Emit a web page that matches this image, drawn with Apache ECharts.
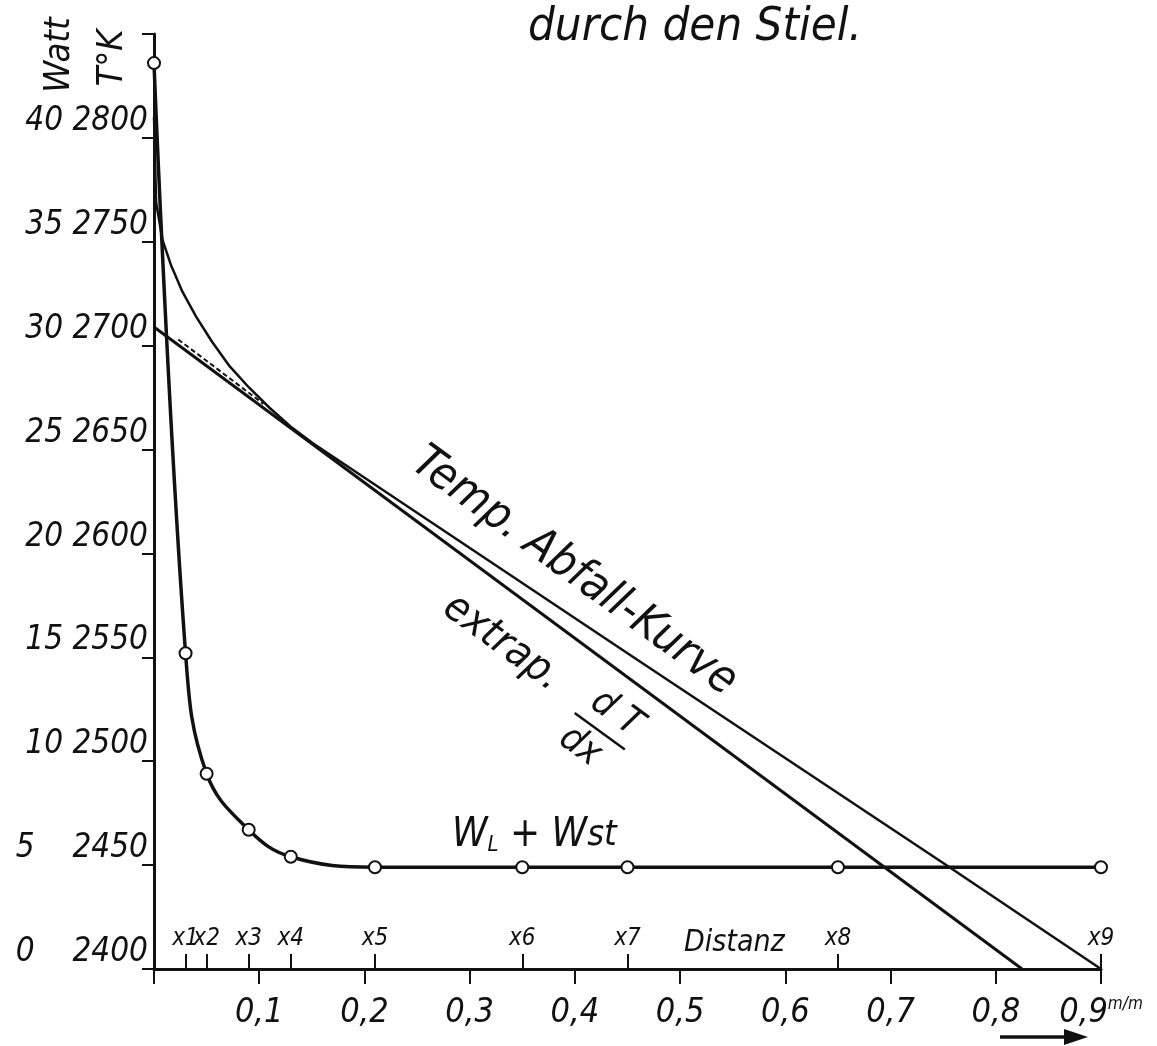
<!DOCTYPE html>
<html>
<head>
<meta charset="utf-8">
<script src="https://cdn.jsdelivr.net/npm/echarts@6/dist/echarts.min.js"></script>
<style>
  html, body { margin: 0; padding: 0; background: #fff; }
  #main { width: 1157px; height: 1046px; }
</style>
</head>
<body>
<div id="main"></div>
<script>
// Messpunkte x0..x9 (Distanz in mm) und Leistung W_L + W_st (Watt)
var distX = [0, 0.03, 0.05, 0.09, 0.13, 0.21, 0.35, 0.45, 0.65, 0.9];
var distNames = ['', 'x1', 'x2', 'x3', 'x4', 'x5', 'x6', 'x7', 'x8', 'x9'];
var wattW = [43.6, 15.2, 9.4, 6.7, 5.4, 4.9, 4.9, 4.9, 4.9, 4.9];

// Temp. Abfall-Kurve (Distanz mm, T in K)
var tempX = [0, 0.002, 0.008, 0.016, 0.027, 0.04, 0.055, 0.072, 0.09, 0.11, 0.13, 0.151, 0.45, 0.75, 0.9];
var tempT = [2810, 2769, 2751, 2739, 2726, 2714, 2702, 2690, 2680, 2670, 2661, 2653, 2552, 2451, 2400];

// extrapolierte Tangente dT/dx
var extrapX = [0, 0.825];
var extrapT = [2709, 2400];

// gestrichelter Teil am Anfang
var dashX = [0.023, 0.104];
var dashT = [2703, 2672];

var font = '"DejaVu Sans Condensed", "DejaVu Sans", sans-serif';
var ink = '#111';

function pairs(xs, ys) {
    var out = [];
    for (var i = 0; i < xs.length; i++) out.push([xs[i], ys[i]]);
    return out;
}

var deg = Math.PI / 180;
var mid = { textAlign: 'center', textVerticalAlign: 'middle', align: 'center', verticalAlign: 'middle' };

function txt(s, size, extra) {
    var st = { text: s, font: 'italic ' + size + 'px ' + font, fill: ink };
    if (extra) for (var k in extra) st[k] = extra[k];
    return st;
}

var option = {
    animation: false,
    backgroundColor: '#fff',
    grid: { left: 154, right: 56, top: 34, bottom: 77, containLabel: false },
    xAxis: [
        {
            type: 'value', min: 0, max: 0.9, interval: 0.1,
            axisLine: { lineStyle: { color: ink, width: 3 } },
            axisTick: { length: 15, lineStyle: { color: ink, width: 2 } },
            splitLine: { show: false },
            axisLabel: {
                margin: 27, color: ink, fontFamily: font, fontStyle: 'italic', fontSize: 34,
                formatter: function (v) {
                    if (v === 0) return '';
                    var s = v.toFixed(1).replace('.', ',');
                    if (Math.abs(v - 0.9) < 1e-9) return '{n|' + s + '}{u|m/m}';
                    return '{n|' + s + '}';
                },
                rich: {
                    n: { fontFamily: font, fontStyle: 'italic', fontSize: 34, color: ink },
                    u: { fontFamily: font, fontStyle: 'italic', fontSize: 17, color: ink, verticalAlign: 'top', padding: [0, 0, 14, 0] }
                }
            }
        },
        {
            type: 'value', min: 0, max: 0.9, position: 'bottom',
            axisLine: { show: false },
            splitLine: { show: false },
            axisTick: { show: true, inside: true, length: 15, customValues: distX, lineStyle: { color: ink, width: 2 } },
            axisLabel: {
                inside: true, margin: 18, hideOverlap: false, customValues: distX,
                color: ink, fontFamily: font, fontStyle: 'italic', fontSize: 24,
                formatter: function (v) {
                    for (var i = 0; i < distX.length; i++) {
                        if (Math.abs(distX[i] - v) < 1e-9) return distNames[i];
                    }
                    return '';
                }
            }
        }
    ],
    yAxis: [
        {
            type: 'value', min: 2400, max: 2850, interval: 50,
            axisLine: { show: true, lineStyle: { color: ink, width: 3 } },
            axisTick: { show: true, length: 12, lineStyle: { color: ink, width: 2 } },
            splitLine: { show: false },
            axisLabel: {
                margin: 6, color: ink, fontFamily: font, fontStyle: 'italic', fontSize: 33,
                verticalAlign: 'bottom',
                formatter: function (v) {
                    if (v > 2800) return '';
                    var w = (v - 2400) / 10;
                    return w + (w < 10 ? '    ' : ' ') + v;
                }
            }
        },
        { type: 'value', min: 0, max: 45, show: false }
    ],
    series: [
        {
            name: 'W_L + W_st', type: 'line', xAxisIndex: 0, yAxisIndex: 1,
            data: pairs(distX, wattW),
            smooth: 0.4,
            symbol: 'circle', symbolSize: 12,
            itemStyle: { color: '#fff', borderColor: ink, borderWidth: 2 },
            lineStyle: { color: ink, width: 3.5 },
            z: 5
        },
        {
            name: 'Temp. Abfall-Kurve', type: 'line', xAxisIndex: 0, yAxisIndex: 0,
            data: pairs(tempX, tempT),
            smooth: false, showSymbol: false,
            lineStyle: { color: ink, width: 2.5 }
        },
        {
            name: 'extrap. dT/dx', type: 'line', xAxisIndex: 0, yAxisIndex: 0,
            data: pairs(extrapX, extrapT), showSymbol: false,
            lineStyle: { color: ink, width: 3 }
        },
        {
            name: 'gestrichelt', type: 'line', xAxisIndex: 0, yAxisIndex: 0,
            data: pairs(dashX, dashT), showSymbol: false,
            lineStyle: { color: ink, width: 2, type: [5, 3] }
        }
    ],
    graphic: [
        { type: 'text', x: 528, y: 4, style: txt('durch den Stiel.', 47) },
        { type: 'text', x: 60, y: 55, rotation: Math.PI / 2, style: txt('Watt', 36, mid) },
        { type: 'text', x: 113, y: 58, rotation: Math.PI / 2, style: txt('T°K', 36, mid) },
        { type: 'text', x: 574, y: 572, rotation: -36 * deg, style: txt('Temp. Abfall-Kurve', 46, mid) },
        {
            type: 'group', x: 502, y: 643, rotation: -36 * deg,
            children: [
                { type: 'text', x: 0, y: 0, style: txt('extrap.', 42, mid) },
                { type: 'text', x: 134, y: -10, style: txt('d T', 38, mid) },
                { type: 'line', shape: { x1: 100, y1: 14, x2: 162, y2: 14 }, style: { stroke: ink, lineWidth: 2.5 } },
                { type: 'text', x: 124, y: 38, style: txt('dx', 38, mid) }
            ]
        },
        {
            type: 'text', x: 452, y: 856,
            style: {
                text: '{w|W}{s|L}{w| + W}{t|st}', fill: ink,
                textVerticalAlign: 'bottom', verticalAlign: 'bottom',
                rich: {
                    w: { fontFamily: font, fontStyle: 'italic', fontSize: 40, fill: ink, color: ink },
                    s: { fontFamily: font, fontStyle: 'italic', fontSize: 22, fill: ink, color: ink, verticalAlign: 'bottom' },
                    t: { fontFamily: font, fontStyle: 'italic', fontSize: 36, fill: ink, color: ink }
                }
            }
        },
        { type: 'text', x: 684, y: 928, style: txt('Distanz', 30) },
        { type: 'line', shape: { x1: 1000, y1: 1037, x2: 1075, y2: 1037 }, style: { stroke: ink, lineWidth: 3.5 } },
        { type: 'polygon', shape: { points: [[1064, 1029], [1088, 1037], [1064, 1045]] }, style: { fill: ink } }
    ]
};

var chart = echarts.init(document.getElementById('main'));
chart.setOption(option);
</script>
</body>
</html>
